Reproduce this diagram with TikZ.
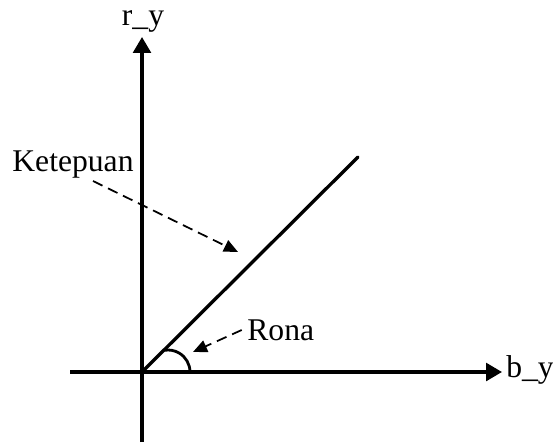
\documentclass[tikz,border=0pt]{standalone}
\usepackage{fontspec}
\setmainfont{Liberation Serif}
\usetikzlibrary{arrows.meta}
\begin{document}
\begin{tikzpicture}[x=0.02cm, y=-0.02cm, every node/.style={font=\fontsize{18}{21}\selectfont, inner sep=0pt}]
  \tikzset{paksi/.style={line width=1.9pt, -{Triangle[length=9pt,width=10pt]}},
    penunjuk/.style={line width=1pt, dash pattern=on 6pt off 3.5pt, -{Triangle[length=8pt,width=7pt]}}}
  \useasboundingbox (0,0) rectangle (553,445);
  % paksi
  \coordinate (O) at (142,372);
  \coordinate (bawah) at (142,442);
  \coordinate (atas) at (142,37);
  \coordinate (kiri) at (70,372);
  \coordinate (kanan) at (502,372);
  \draw[paksi] (bawah) -- (atas);
  \draw[paksi] (kiri) -- (kanan);
  \node (ry) at (143,21) {r\_y};
  \node[anchor=west] (by) at (506,370) {b\_y};
  % garis warna
  \coordinate (P) at (358,157);
  \draw[line width=1.9pt, line cap=round] (O) -- (P);
  % sudut rona
  \draw[line width=1.6pt] (190,372) arc[start angle=0, end angle=-100, radius=22];
  % label
  \node (ket) at (73,165) {Ketepuan};
  \coordinate (k1) at (93,181);
  \coordinate (k2) at (238,252);
  \draw[penunjuk] (k1) -- (k2);
  \node[anchor=west] (rona) at (247,330) {Rona};
  \coordinate (r2) at (193,352);
  \draw[penunjuk] ([xshift=-3pt]rona.west) -- (r2);
\end{tikzpicture}
\end{document}
